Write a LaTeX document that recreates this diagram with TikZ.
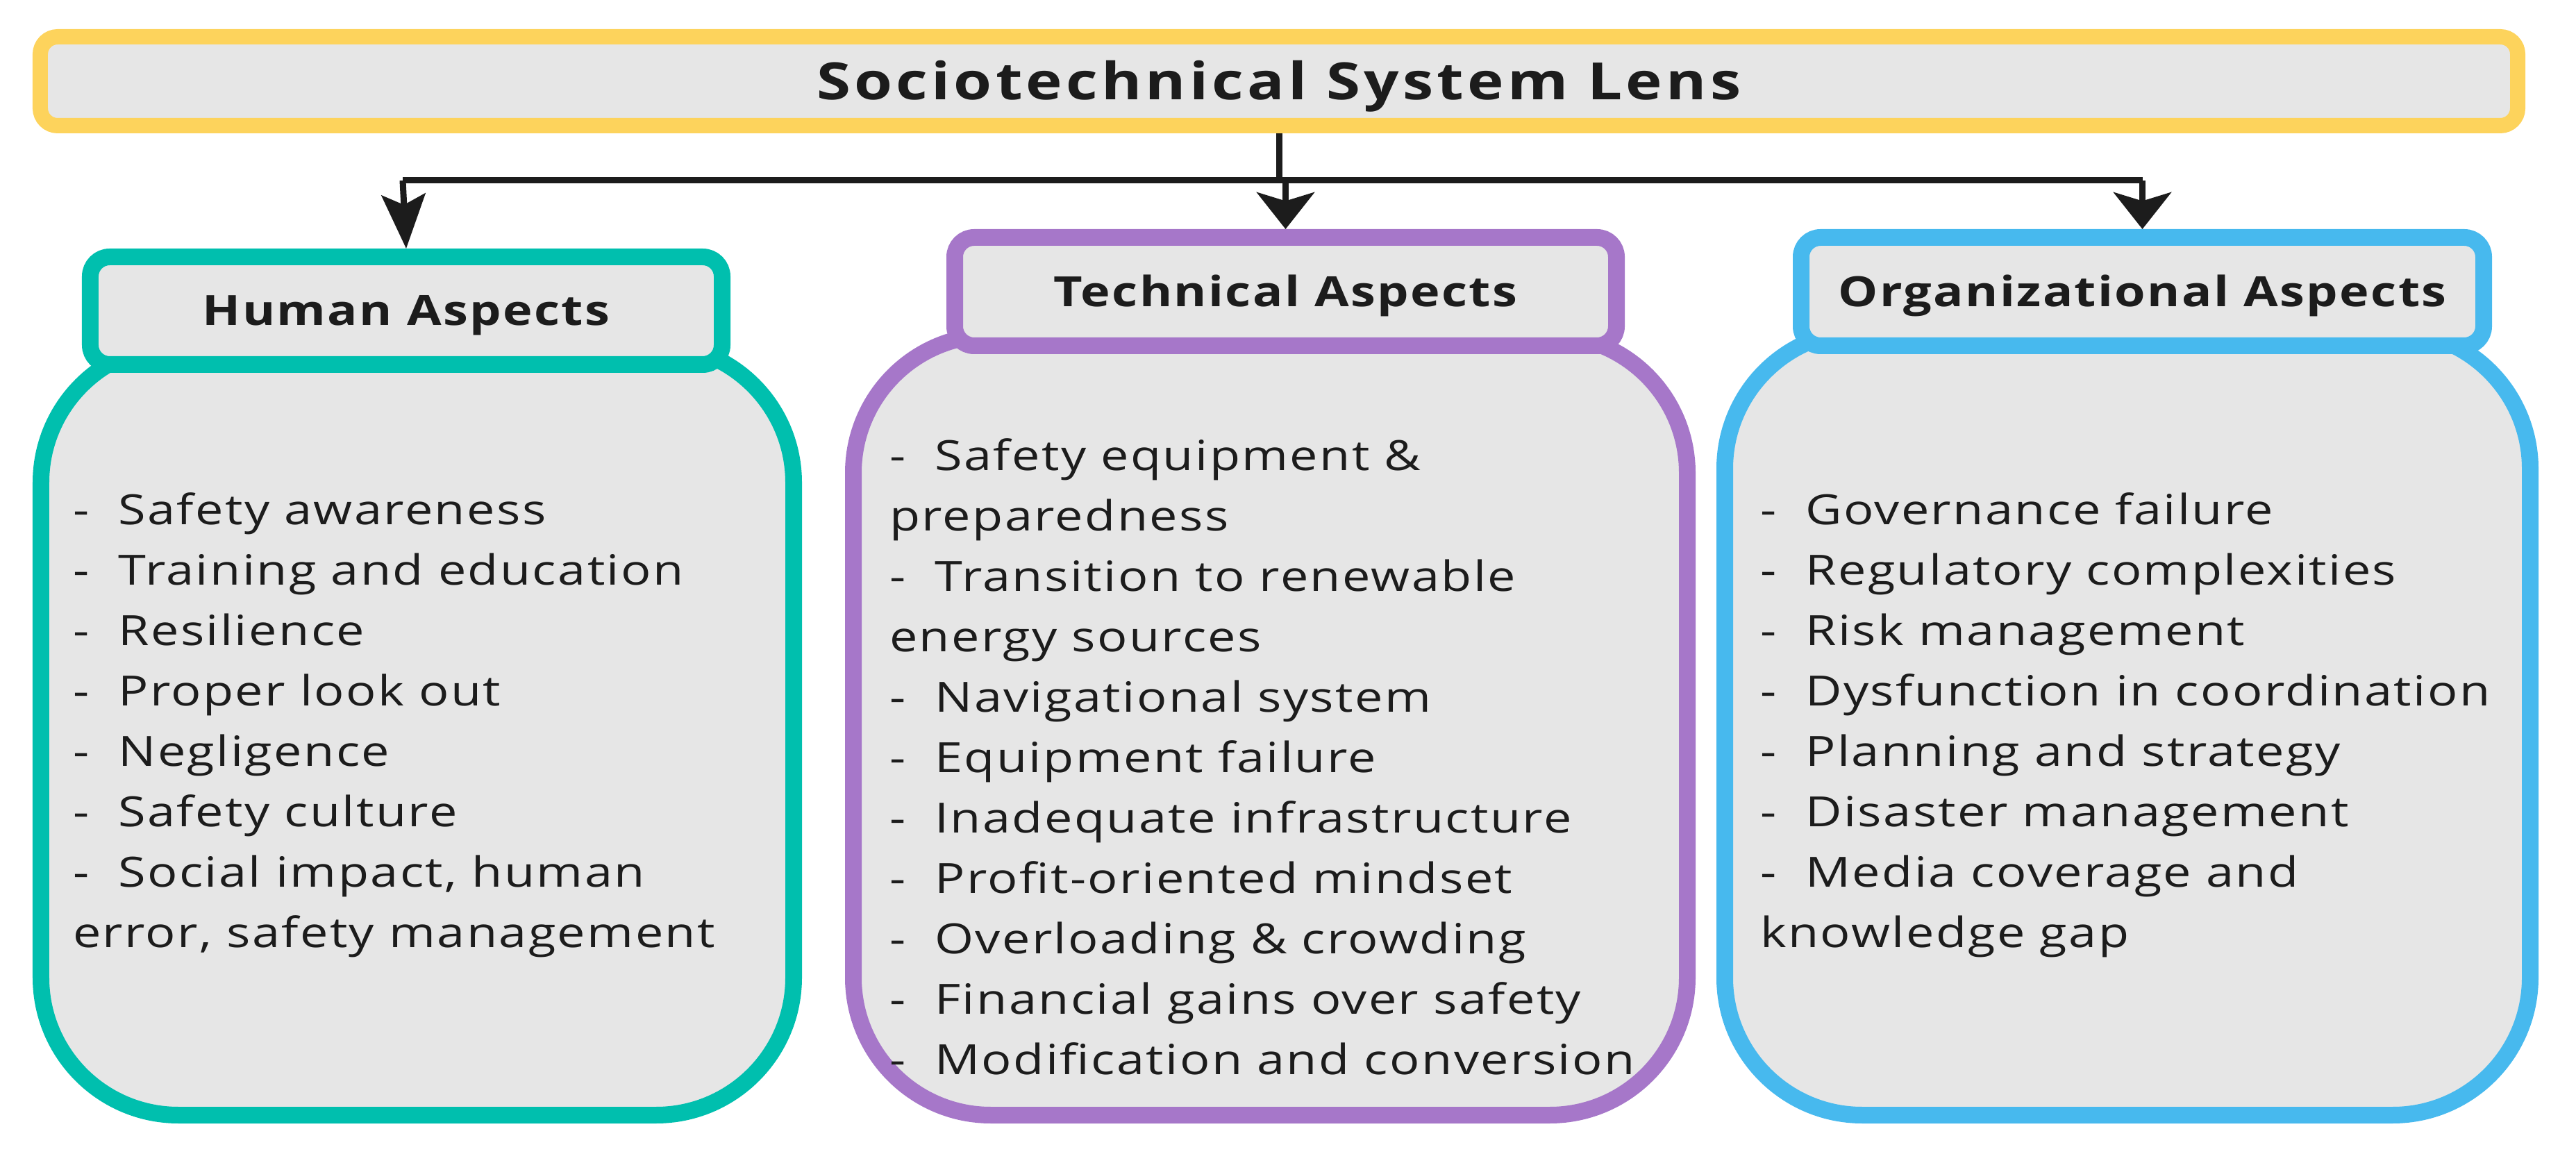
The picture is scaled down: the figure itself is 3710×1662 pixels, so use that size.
\documentclass[tikz,border=0pt]{standalone}
\usepackage{fontspec}
\setmainfont{Open Sans}[FakeStretch=1.2,LetterSpace=4]
\usetikzlibrary{arrows.meta}
\definecolor{boxfill}{HTML}{E6E6E6}
\definecolor{ylw}{HTML}{FDD35C}
\definecolor{tealc}{HTML}{00BFAE}
\definecolor{purp}{HTML}{A677C9}
\definecolor{bluec}{HTML}{47B9EE}
\definecolor{ink}{HTML}{1C1C1C}
\begin{document}
\begin{tikzpicture}[x=0.2pt,y=-0.2pt,
  titlebox/.style={draw=ylw,line width=4.4pt,fill=boxfill,rounded corners=5pt,
    minimum width=713.6pt,minimum height=25.6pt,inner sep=0pt,
    text height=10.6pt,text depth=0pt,
    font=\fontsize{14.8}{18}\selectfont\bfseries\addfontfeatures{LetterSpace=7},text=ink},
  headbox/.style={draw=#1,line width=4.8pt,fill=boxfill,rounded corners=5.6pt,
    minimum height=31pt,inner sep=0pt,text height=8.6pt,text depth=0pt,
    font=\fontsize{12}{14}\selectfont\bfseries,text=ink},
  bodybox/.style={draw=#1,line width=4.8pt,fill=boxfill,rounded corners=39.6pt,inner sep=0pt},
  itemtext/.style={anchor=north west,align=left,inner sep=0pt,
    font=\fontsize{12}{17.4}\selectfont,text=ink},
  conn/.style={draw=ink,line width=1.8pt},
  tipA/.style={-{Stealth[length=15.6pt,width=12.6pt,inset=3pt]}},
  tipB/.style={-{Stealth[length=10.6pt,width=16.6pt,inset=2.5pt]}}]
\useasboundingbox (0,0) rectangle (3710,1662);

% bodies
\node[bodybox=tealc,minimum width=216.8pt,minimum height=221.8pt] (hbody) at (601,1051.5) {};
\node[bodybox=purp,minimum width=240.2pt,minimum height=224.6pt] (tbody) at (1829.5,1044.5) {};
\node[bodybox=bluec,minimum width=232pt,minimum height=225.8pt] (obody) at (3064,1041.5) {};

% headers
\node[headbox=tealc,minimum width=182pt] (hhead) at (585,447.5) {Human Aspects};
\node[headbox=purp,minimum width=190.6pt,minimum height=31.2pt] (thead) at (1851.5,420) {Technical Aspects};
\node[headbox=bluec,minimum width=196.6pt,minimum height=31.2pt] (ohead) at (3085.5,420) {Organizational Aspects};

% title
\node[titlebox] (title) at (1842,117) {Sociotechnical System Lens};

% connectors
\coordinate (hl) at (580,260);
\coordinate (hr) at (3085.5,260);
\draw[conn] (title.south) -- (title.south |- hl);
\draw[conn] (hl) -- (hr);
\draw[conn,tipA] (hl) -- (hhead.north);
\draw[conn,tipB] (thead.north |- hl) -- (thead.north);
\draw[conn,tipB] (hr) -- (ohead.north);

% texts
\node[itemtext] (htext) at (104,694) {\strut-\ \ Safety awareness\\
-\ \ Training and education\\
-\ \ Resilience\\
-\ \ Proper look out\\
-\ \ Negligence\\
-\ \ Safety culture\\
-\ \ Social impact, human\\
error, safety management};

\node[itemtext] (ttext) at (1280,616) {\strut-\ \ Safety equipment \&\\
preparedness\\
-\ \ Transition to renewable\\
energy sources\\
-\ \ Navigational system\\
-\ \ Equipment failure\\
-\ \ Inadequate infrastructure\\
-\ \ Profit-oriented mindset\\
-\ \ Overloading \& crowding\\
-\ \ Financial gains over safety\\
-\ \ Modification and conversion};

\node[itemtext] (otext) at (2534,694) {\strut-\ \ Governance failure\\
-\ \ Regulatory complexities\\
-\ \ Risk management\\
-\ \ Dysfunction in coordination\\
-\ \ Planning and strategy\\
-\ \ Disaster management\\
-\ \ Media coverage and\\
knowledge gap};
\end{tikzpicture}
\end{document}
